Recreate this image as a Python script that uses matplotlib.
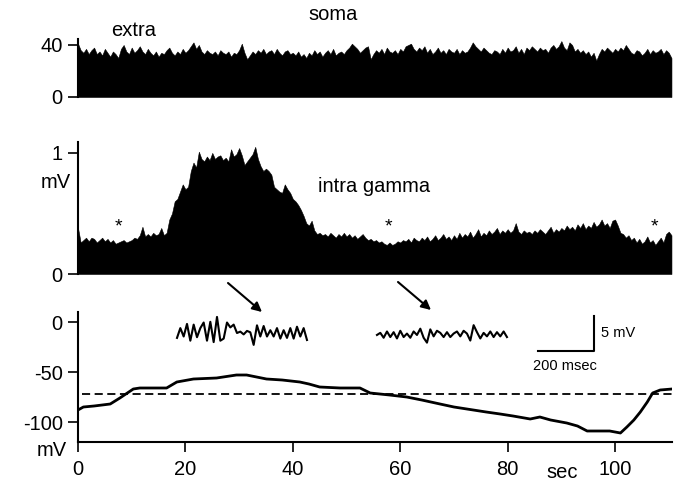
import matplotlib
matplotlib.use('Agg')
import matplotlib.pyplot as plt
import numpy as np

plt.rcParams['font.family'] = ['Liberation Sans', 'DejaVu Sans']
plt.rcParams['axes.unicode_minus'] = False

W, H = 683, 484

# extracellular spike counts (soma), 0.5 s bins
extra_counts = [
    41, 36, 34, 37, 33, 36, 38, 33, 35, 32, 37, 34, 31, 35, 33, 30, 37, 40, 35, 33,
    38, 34, 36, 39, 35, 33, 37, 34, 32, 35, 31, 34, 33, 36, 38, 34, 32, 35, 33, 37,
    34, 36, 39, 42, 37, 40, 35, 33, 36, 34, 33, 35, 32, 36, 34, 33, 35, 31, 34, 33,
    36, 41, 34, 29, 32, 35, 33, 36, 34, 37, 33, 35, 36, 33, 37, 34, 32, 35, 36, 33,
    34, 32, 35, 31, 33, 30, 34, 32, 36, 33, 35, 31, 34, 36, 33, 37, 32, 34, 35, 33,
    36, 38, 41, 39, 37, 34, 36, 38, 39, 29, 33, 36, 34, 37, 33, 38, 35, 34, 36, 33,
    37, 35, 39, 40, 41, 37, 35, 38, 36, 39, 34, 37, 33, 35, 38, 34, 36, 33, 37, 35,
    34, 37, 33, 36, 34, 35, 38, 42, 39, 37, 35, 38, 36, 34, 33, 36, 35, 33, 37, 34,
    38, 35, 36, 39, 34, 37, 33, 38, 36, 39, 37, 35, 38, 36, 37, 34, 38, 40, 37, 39,
    43, 38, 36, 42, 40, 35, 37, 34, 36, 33, 35, 31, 34, 28, 33, 37, 35, 38, 36, 34,
    37, 35, 38, 36, 40, 37, 34, 33, 36, 35, 32, 34, 37, 33, 36, 34, 35, 37, 33, 36,
    34, 30]

# intracellular gamma amplitude (mV), 0.5 s bins
gamma_amp = [
    0.38, 0.26, 0.28, 0.30, 0.27, 0.30, 0.29, 0.26, 0.28, 0.30, 0.27, 0.29, 0.26, 0.28, 0.25, 0.26, 0.27, 0.28, 0.26, 0.27,
    0.28, 0.30, 0.29, 0.32, 0.39, 0.31, 0.33, 0.31, 0.34, 0.32, 0.33, 0.38, 0.32, 0.34, 0.45, 0.50, 0.60, 0.62, 0.68, 0.74,
    0.70, 0.72, 0.85, 0.92, 0.88, 1.01, 0.95, 0.93, 0.97, 0.94, 1.00, 0.95, 0.97, 0.98, 0.94, 0.96, 0.93, 1.03, 0.97, 0.99,
    1.04, 0.98, 0.90, 0.93, 0.96, 0.99, 1.05, 0.95, 0.89, 0.85, 0.87, 0.85, 0.82, 0.72, 0.70, 0.68, 0.67, 0.74, 0.70, 0.67,
    0.62, 0.60, 0.57, 0.53, 0.48, 0.42, 0.40, 0.44, 0.36, 0.33, 0.34, 0.32, 0.33, 0.31, 0.34, 0.32, 0.30, 0.33, 0.31, 0.34,
    0.31, 0.33, 0.30, 0.32, 0.29, 0.31, 0.33, 0.30, 0.28, 0.29, 0.27, 0.28, 0.26, 0.27, 0.25, 0.24, 0.26, 0.24, 0.25, 0.27,
    0.26, 0.28, 0.27, 0.29, 0.26, 0.30, 0.28, 0.27, 0.30, 0.28, 0.31, 0.27, 0.29, 0.32, 0.28, 0.30, 0.33, 0.29, 0.31, 0.28,
    0.32, 0.29, 0.34, 0.30, 0.33, 0.31, 0.35, 0.30, 0.33, 0.37, 0.31, 0.34, 0.32, 0.36, 0.33, 0.35, 0.38, 0.33, 0.36, 0.34,
    0.37, 0.34, 0.36, 0.42, 0.35, 0.33, 0.36, 0.34, 0.35, 0.33, 0.36, 0.34, 0.37, 0.35, 0.33, 0.36, 0.39, 0.34, 0.37, 0.35,
    0.38, 0.36, 0.40, 0.37, 0.39, 0.36, 0.41, 0.38, 0.42, 0.37, 0.40, 0.38, 0.43, 0.39, 0.41, 0.45, 0.40, 0.42, 0.38, 0.44,
    0.45, 0.40, 0.34, 0.33, 0.30, 0.32, 0.28, 0.30, 0.26, 0.29, 0.25, 0.27, 0.31, 0.26, 0.28, 0.24, 0.27, 0.30, 0.26, 0.33,
    0.35, 0.32]
bin_s = 0.5

# membrane potential
vm_t = [0, 1, 3, 6, 7.8, 10.3, 11.5, 14, 16.5, 18.4, 21.5, 25.8, 29.5, 31.4, 35.1,
        38, 41.3, 43, 45, 48.8, 52.5, 54.4, 58, 61.2, 64, 67.4, 70, 73.6, 76, 78.6,
        81, 84.2, 86, 88, 91, 93, 94.8, 97.2, 99, 101, 102.2, 103.5, 104.7, 106, 107,
        108.4, 110.6]
vm_mv = [-88, -85, -84, -82, -76, -67, -66, -66, -66, -60, -57, -56, -53, -53, -57,
         -58, -60, -62, -65, -66, -66, -71, -73, -75, -78, -82, -85, -88, -90, -92,
         -94, -97, -95, -98, -101, -104, -109, -109, -109, -111, -105, -98, -90, -80, -71,
         -68, -67]
rest_mv = -72

# sample traces (mV around baseline), ~11.9 ms per sample
burst_trace = [-0.7, 0.7, -0.5, 1.3, -1.1, 1.2, -0.6, 0.7, 1.5, -1.1, 1.6, -1.3, 2.3, -1.1,
               -0.8, 1.5, 0.8, 1.2, 0.0, 0.2, -0.2, 0.3, 0.1, -1.7, 1.1, -0.5, 1.0, -0.5,
               0.4, -0.5, 0.7, -0.8, 0.4, -0.7, 0.7, -0.8, 0.9, -0.5, 0.7, -1.0]
quiet_trace = [0.0, 0.3, -0.4, 0.5, -0.3, 0.4, -0.5, 0.6, -0.3, 0.2, -0.4, 0.5, 0.0, 0.9,
               -0.4, -1.1, 0.8, -0.2, 0.6, 0.3, -0.3, 0.4, -0.3, 0.2, 0.5, -0.2, 0.6, 0.2,
               -0.8, 1.4, 0.4, -0.5, 0.3, -0.2, 0.5, -0.3, 0.4, -0.2, 0.5, -0.3]
trace_dt = 11.9

FS = 14.5


def box(x0, y0, x1, y1):
    return [x0 / W, 1 - y1 / H, (x1 - x0) / W, (y1 - y0) / H]


def px(x, y):
    return (x / W, 1 - y / H)


def style(ax, bottom=False):
    for s in ['top', 'right']:
        ax.spines[s].set_visible(False)
    ax.spines['bottom'].set_visible(bottom)
    for s in ['left', 'bottom']:
        ax.spines[s].set_linewidth(1.5)
    ax.tick_params(direction='out', length=7, width=1.2, labelsize=FS, pad=4)
    ax.set_xlim(0, 110.6)
    if not bottom:
        ax.set_xticks([])


fig = plt.figure(figsize=(W / 100, H / 100), dpi=100, facecolor='white')

tb = np.arange(len(extra_counts)) * bin_s

ax1 = fig.add_axes(box(78, 39, 672, 97))
style(ax1)
ax1.fill_between(tb, 0, extra_counts, color='black', lw=0.4)
ax1.set_ylim(0, 44.6)
ax1.set_yticks([0, 40])

ax2 = fig.add_axes(box(78, 142, 672, 274))
style(ax2)
ax2.fill_between(tb, 0, gamma_amp, color='black', lw=0.4)
ax2.set_ylim(0, 1.09)
ax2.set_yticks([0, 1])
for xs in [7.45, 57.9, 107.4]:
    ax2.text(xs, 0.35, '*', ha='center', va='baseline', fontsize=14)

ax3 = fig.add_axes(box(78, 312, 672, 442))
style(ax3, bottom=True)
ax3.plot(vm_t, vm_mv, color='black', lw=2.0, solid_capstyle='round')
ax3.hlines(rest_mv, 0.7, 110.6, colors='black', lw=1.3, linestyles=(0, (4.5, 2.5)))
ax3.set_ylim(-120, 10)
ax3.set_yticks([0, -50, -100])
ax3.set_xticks([0, 20, 40, 60, 80, 100])
ax3.tick_params(axis='x', pad=6)

# inset traces + scale bar (ms, mV)
axi = fig.add_axes(box(170, 300, 610, 360))
axi.axis('off')
axi.set_xlim(0, 1571)
axi.set_ylim(-1.29, 7.29)
t1 = 25 + np.arange(len(burst_trace)) * trace_dt
t2 = 739 + np.arange(len(quiet_trace)) * trace_dt
axi.plot(t1, np.array(burst_trace) + 2.57, color='black', lw=1.5)
axi.plot(t2, np.array(quiet_trace) + 2.29, color='black', lw=1.5)
axi.plot([1314, 1514, 1514], [0, 0, 5], color='black', lw=1.5)
axi.text(1540, 2.57, '5 mV', ha='left', va='center', fontsize=10.5)
axi.text(1411, -2.1, '200 msec', ha='center', va='center', fontsize=10.5)

# labels
fig.text(*px(333, 15), 'soma', ha='center', va='center', fontsize=FS)
fig.text(*px(134, 31), 'extra', ha='center', va='center', fontsize=FS)
fig.text(*px(374, 187), 'intra gamma', ha='center', va='center', fontsize=FS)
fig.text(*px(56, 183), 'mV', ha='center', va='center', fontsize=FS)
fig.text(*px(52, 450), 'mV', ha='center', va='center', fontsize=FS)
fig.text(*px(562, 472), 'sec', ha='center', va='center', fontsize=FS)

# arrows
for (xa, ya), (xb, yb) in [((228, 283), (262, 312)), ((398, 282), (431, 310))]:
    fig.add_artist(matplotlib.patches.FancyArrowPatch(
        px(xa, ya), px(xb, yb), transform=fig.transFigure,
        arrowstyle='-|>', mutation_scale=14, lw=1.5, color='black',
        shrinkA=0, shrinkB=0))

fig.savefig('out.png', dpi=100)
